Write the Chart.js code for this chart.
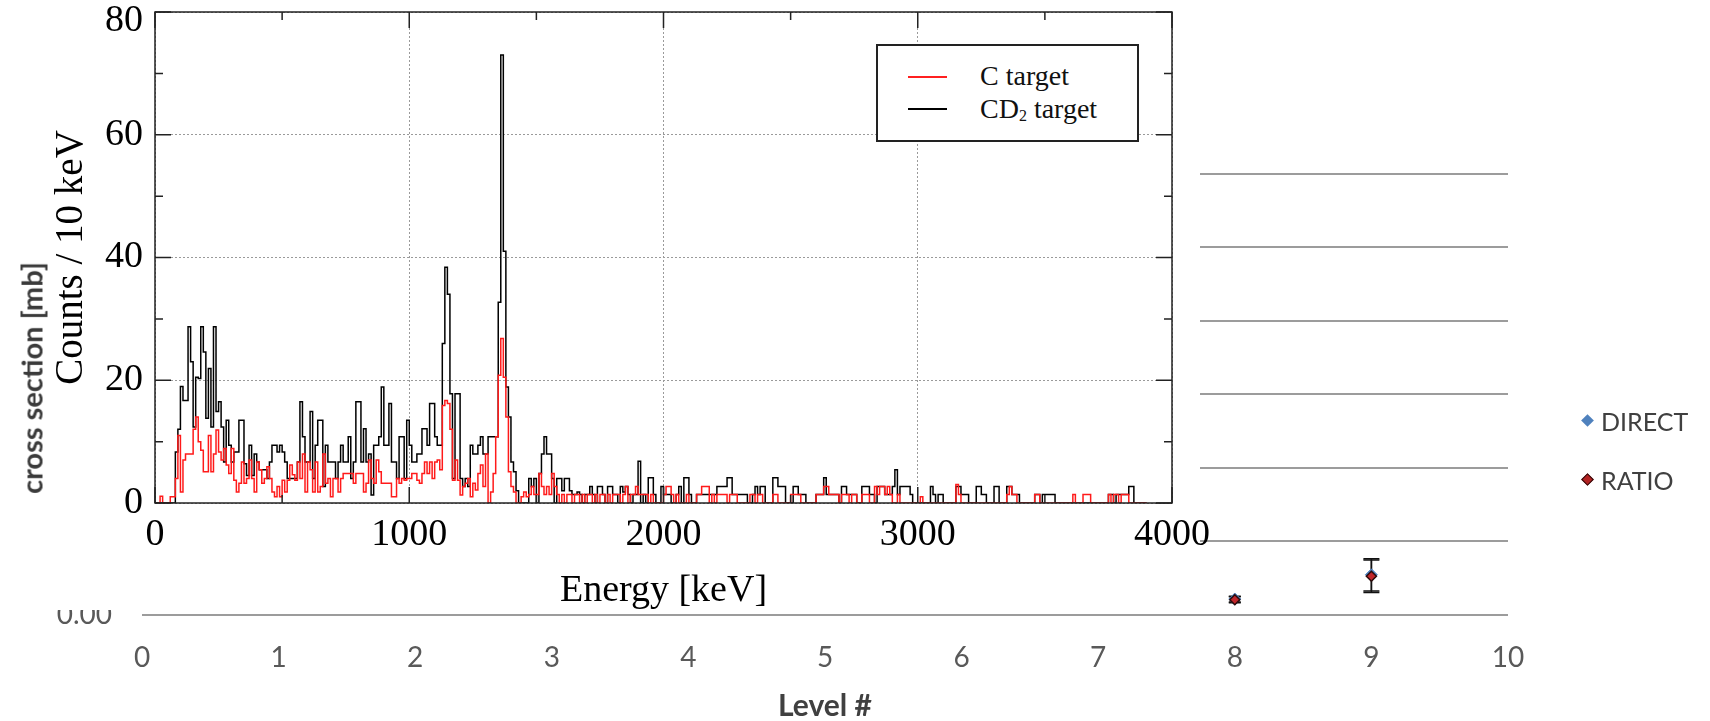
<!DOCTYPE html>
<html>
<head>
<meta charset="utf-8">
<title>CD2 / C target spectra</title>
<script src="https://cdn.jsdelivr.net/npm/chart.js@4.4.1/dist/chart.umd.min.js"></script>
<style>
  html, body { margin: 0; padding: 0; background: #fff; }
  body { position: relative; width: 1710px; height: 721px; overflow: hidden; }
  #levelChart { position: absolute; left: 0; top: 0; }
  #spectrumBox { position: absolute; left: 0; top: 0; width: 1200px; height: 610px; background: #fff; }
  #spectrumChart { position: absolute; left: 0; top: 0; }
  .abs { position: absolute; white-space: nowrap; }
  #rootLegend { left: 876px; top: 44px; width: 263px; height: 98px; box-sizing: border-box;
    border: 2px solid #222; background: #fff; }
  .serif { font-family: "Liberation Serif", "Times New Roman", serif; font-size: 28px; line-height: 28px; color: #111; }
  .xl { font-family: Lato, "Open Sans", sans-serif; color: #404040; }
  .diamond { width: 9px; height: 9px; transform: rotate(45deg); box-sizing: border-box; }
</style>
</head>
<body>
<canvas id="levelChart" width="1710" height="721"></canvas>
<div id="spectrumBox">
  <canvas id="spectrumChart" width="1215" height="610"></canvas>
</div>

<div id="rootLegend" class="abs"></div>
<div class="abs" style="left:908px; top:76px; width:39px; height:2px; background:#ff2020;"></div>
<div class="abs" style="left:908px; top:108px; width:39px; height:2px; background:#000;"></div>
<div class="abs serif" style="left:980px; top:62px;">C target</div>
<div class="abs serif" style="left:980px; top:95px;">CD<sub style="font-size:16px; vertical-align:-3px;">2</sub> target</div>

<div class="abs xl" style="left:31px; top:378px; transform: translate(-50%, -50%) rotate(-90deg); font-weight:bold; font-size:29px; color:#3a3a3a;">cross section [mb]</div>

<div class="abs diamond" style="left:1583px; top:416px; background:#4f81bd;"></div>
<div class="abs xl" style="left:1601px; top:406px; font-size:25px; line-height:30px;">DIRECT</div>
<div class="abs diamond" style="left:1583px; top:475px; background:#b22222; border:1.5px solid #2a0a0a;"></div>
<div class="abs xl" style="left:1601px; top:465px; font-size:25px; line-height:30px;">RATIO</div>

<script>
// ---- spectrum data: counts per 10 keV bin, starting at 0 keV ----
const binWidth = 10;
const energyTicks = [0, 1000, 2000, 3000, 4000];
const countsMax = 80;

const cTarget = [
  0, 0, 1.1, 0, 0, 0, 1, 1, 4, 11,
  1.8, 7, 8, 8, 8, 12, 14, 10, 8.6, 5.1,
  5.1, 11, 5.1, 8, 11.9, 8.3, 7, 8.9, 6.2, 4.8,
  8.9, 3.7, 1.8, 3.2, 6.7, 3.2, 4, 7, 4, 1.8,
  6.7, 5.4, 3.2, 4, 5.9, 4, 1.8, 1, 2.7, 1,
  3.7, 1.8, 3.7, 6.2, 4.6, 3.7, 6.7, 4, 8, 1.8,
  6.7, 5.4, 1.8, 6.7, 1.8, 2.7, 8, 3.2, 4, 1,
  4, 4, 1.8, 4, 4.8, 4.8, 4.8, 4.8, 3.2, 4.8,
  4.8, 4.8, 1.8, 3.2, 7, 4, 3.2, 7, 5.1, 3.2,
  3.2, 3.2, 3.2, 1, 1, 4, 3.2, 4, 3.7, 4,
  4, 4.8, 4.8, 3.7, 3.2, 4.8, 6.7, 4.8, 6.7, 4,
  6.7, 7, 5.4, 15.9, 16.7, 16.2, 12, 3.7, 7, 3.7,
  1.3, 2.7, 3.2, 4, 1, 3.2, 2.1, 4.8, 6.2, 2.7,
  8, 0, 1.8, 4.8, 10.8, 20.8, 26.8, 20.5, 14, 5.1,
  2.7, 1.8, 0, 0, 1, 1.8, 1, 1.4, 2.7, 1.4,
  1.4, 4.8, 2.7, 1.4, 2.7, 1.4, 4.8, 2.7, 1.4, 0,
  1.4, 0, 1.4, 1.4, 0, 1.4, 1.4, 0, 1.4, 0,
  1.4, 1.4, 0, 1.4, 0, 1.4, 1.4, 0, 1.4, 0,
  1.4, 1.4, 1.4, 0, 1.4, 2.7, 0, 1.4, 1.4, 2.7,
  1.4, 1.4, 1.4, 1.4, 0, 1.4, 0, 0, 0, 0,
  1.4, 2.7, 2.7, 1.4, 0, 1.4, 0, 0, 0, 1.4,
  0, 0, 0, 1.4, 1.4, 2.7, 2.7, 2.7, 0, 1.4,
  0, 1.4, 1.4, 1.4, 1.4, 0, 1.4, 1.4, 1.4, 0,
  0, 0, 0, 0, 1.4, 1.4, 0, 1.4, 1.4, 0,
  0, 0, 0, 1.4, 1.4, 0, 0, 0, 0, 0,
  1.4, 1.4, 1.4, 1.4, 0, 0, 0, 0, 0, 0,
  1.4, 1.4, 1.4, 2.7, 2.7, 1.4, 1.4, 1.4, 1.4, 0,
  1.4, 1.4, 1.4, 0, 1.4, 1.4, 0, 0, 1.4, 1.4,
  1.4, 0, 0, 2.7, 1.4, 2.7, 2.7, 1.4, 2.7, 1.4,
  0, 0, 1.4, 0, 0, 0, 0, 0, 0, 0,
  0, 1, 0, 0, 0, 0, 0, 0, 0, 0,
  0, 0, 0, 0, 0, 3, 1.4, 0, 0, 0,
  0, 0, 0, 0, 0, 0, 0, 0, 0, 0,
  0, 0, 0, 0, 0, 1.4, 2.7, 1.4, 1.4, 0,
  0, 0, 0, 0, 0, 0, 1.4, 1.4, 0, 0,
  0, 0, 0, 0, 0, 0, 0, 0, 0, 0,
  0, 1.4, 0, 0, 0, 1.4, 1.4, 1.4, 0, 0,
  0, 0, 0, 0, 0, 1.4, 0, 1.4, 1.4, 0,
  1.4, 1.4, 1.4, 0, 0, 0, 0, 0, 0, 0
];

const cd2Target = [
  0, 0, 0, 0, 0, 0, 0, 0, 8.3, 12,
  19, 16.7, 16.7, 28.7, 23, 12.4, 20.5, 20.3, 28.7, 24.6,
  13.8, 21.9, 12.4, 28.7, 14.9, 16.5, 12.4, 6.7, 13.5, 9.4,
  6.7, 8.3, 8.3, 13.5, 13.5, 6.4, 4.5, 9.4, 4.5, 8,
  6.7, 5.4, 5.4, 5.4, 4, 6.7, 9.4, 9.4, 8.3, 9.4,
  8.3, 6.7, 4, 4, 4, 4, 6.7, 16.5, 10.8, 6.7,
  6.7, 14.9, 4, 9.4, 13.5, 13.5, 2.7, 9.4, 6.7, 6.7,
  6.7, 4, 6.7, 9.4, 6.7, 6.7, 10.8, 4, 6.7, 16.5,
  16.5, 6.7, 12.1, 6.7, 8, 1.3, 9.4, 9.4, 10.8, 18.9,
  9.4, 9.4, 16.2, 6.7, 6.7, 4, 10.8, 10.8, 4, 13.5,
  9.4, 6.7, 6.7, 8, 8, 12.1, 12.1, 9.4, 16.2, 16.2,
  10.8, 9.4, 9.4, 26, 38.4, 34, 17.8, 4, 17.8, 17.8,
  4, 2.7, 4, 2.7, 9.4, 8, 8, 9.4, 10.8, 8,
  8, 10.8, 10.8, 10.8, 10.8, 32.7, 73, 41, 18.9, 14,
  6.7, 5.1, 2, 0, 0, 0, 0, 4, 2.7, 4,
  0, 4.8, 8, 10.8, 8, 8, 4, 0, 4, 4,
  2, 4, 4, 2, 1.4, 1.4, 1.8, 1.4, 0, 1.4,
  1.4, 2.7, 1.4, 0, 2.7, 2.7, 1.4, 0, 2.7, 2.7,
  1.4, 1.4, 0, 2.7, 1.8, 2.7, 1.4, 0, 1.4, 1.4,
  6.8, 0, 1.4, 0, 4.1, 4.1, 1.4, 0, 0, 2.7,
  1.4, 1.4, 1.4, 0, 0, 1.4, 2.7, 0, 4.1, 4.1,
  1.4, 0, 0, 1.4, 1.4, 1.4, 1.4, 1.4, 1.4, 1.4,
  1.4, 2.7, 2.7, 2.7, 2.7, 4.1, 4.1, 1.4, 1.4, 1.4,
  1.4, 1.4, 1.4, 0, 0, 1.4, 2.7, 1.4, 2.7, 2.7,
  0, 0, 0, 4.1, 4.1, 2.7, 2.7, 2.7, 0, 0,
  0, 2.7, 2.7, 1.4, 1.4, 1.4, 0, 0, 0, 0,
  1.4, 1.4, 1.4, 4.1, 1.4, 1.4, 1.4, 1.4, 1.4, 0,
  2.7, 2.7, 1.4, 1.4, 1.4, 1.4, 0, 0, 2.7, 2.7,
  2.7, 1.4, 1.4, 0, 2.7, 2.7, 2.7, 1.4, 1.4, 1.4,
  2.7, 5.4, 1.4, 2.7, 2.7, 2.7, 2.7, 1.4, 0, 0,
  0, 0, 0, 0, 0, 2.7, 1.4, 0, 1.4, 1.4,
  0, 0, 0, 0, 0, 2.7, 2.7, 1.4, 1.4, 1.4,
  0, 0, 0, 2.7, 2.7, 1.4, 1.4, 0, 0, 0,
  2.7, 2.7, 0, 0, 0, 2.7, 2.7, 1.4, 1.4, 1.4,
  0, 0, 0, 0, 0, 0, 1.4, 1.4, 0, 1.4,
  1.4, 1.4, 1.4, 1.4, 0, 0, 0, 0, 0, 0,
  0, 0, 0, 0, 0, 0, 0, 0, 0, 0,
  0, 0, 0, 0, 0, 1.4, 1.4, 0, 1.4, 1.4,
  1.4, 1.4, 1.4, 2.7, 2.7, 0, 0, 0, 0, 0
];

// ---- cross section data behind the spectrum ----
const levels = [8, 9];
const directValues = [0.021, 0.054];
const directErrors = [0.004, 0.022];
const ratioValues = [0.020, 0.052];
const ratioErrors = [0.004, 0.022];

// histogram outline: each bin starts at its lower edge, closed at the last edge
const toSteps = (values) => {
  const pts = values.map((v, i) => ({ x: i * binWidth, y: v }));
  pts.push({ x: values.length * binWidth, y: 0 });
  return pts;
};

const serif = '"Liberation Serif", "Times New Roman", serif';
const sans = 'Lato, "Open Sans", sans-serif';

// ROOT style frame with inside ticks
const rootFrame = {
  id: 'rootFrame',
  afterDraw(chart) {
    const { ctx, chartArea: a, scales: { x, y } } = chart;
    ctx.save();
    ctx.strokeStyle = '#222';
    ctx.lineWidth = 1.5;
    ctx.strokeRect(a.left, a.top, a.right - a.left, a.bottom - a.top);
    ctx.beginPath();
    for (let e = energyTicks[0]; e <= energyTicks[energyTicks.length - 1]; e += 500) {
      const px = x.getPixelForValue(e);
      const len = e % 1000 === 0 ? 16 : 8;
      ctx.moveTo(px, a.bottom); ctx.lineTo(px, a.bottom - len);
      ctx.moveTo(px, a.top); ctx.lineTo(px, a.top + len);
    }
    for (let c = 0; c <= countsMax; c += 10) {
      const py = y.getPixelForValue(c);
      const len = c % 20 === 0 ? 16 : 8;
      ctx.moveTo(a.left, py); ctx.lineTo(a.left + len, py);
      ctx.moveTo(a.right, py); ctx.lineTo(a.right - len, py);
    }
    ctx.stroke();
    ctx.restore();
  }
};

new Chart(document.getElementById('spectrumChart'), {
  type: 'line',
  data: {
    datasets: [
      {
        label: 'C target',
        data: toSteps(cTarget),
        borderColor: '#ff1a1a',
        borderWidth: 1.5,
        pointRadius: 0,
        stepped: 'before',
        fill: false,
      },
      {
        label: 'CD2 target',
        data: toSteps(cd2Target),
        borderColor: '#000',
        borderWidth: 1.5,
        pointRadius: 0,
        stepped: 'before',
        fill: false,
      },
    ],
  },
  options: {
    responsive: false,
    animation: false,
    layout: { padding: { top: 12, right: 43, left: 0, bottom: 0 } },
    plugins: { legend: { display: false }, tooltip: { enabled: false } },
    scales: {
      x: {
        type: 'linear',
        min: 0,
        max: 4000,
        ticks: { stepSize: 1000, maxRotation: 0, autoSkip: false, padding: 13,
          color: '#000', font: { family: serif, size: 38, lineHeight: 1 },
          callback: (v) => String(v) },
        grid: { color: '#9a9a9a', lineWidth: 1, drawTicks: false },
        border: { display: false, dash: [2, 2] },
        title: { display: true, text: 'Energy [keV]', color: '#000',
          font: { family: serif, size: 38, lineHeight: 1 }, padding: { top: 0, bottom: 0 } },
        afterFit: (s) => { s.height = 107; s.paddingLeft = 0; s.paddingRight = 0; },
      },
      y: {
        min: 0,
        max: countsMax,
        ticks: {
          stepSize: 20, padding: 12, color: '#000',
          // top label sits a little below the frame edge, as ROOT keeps it inside the pad
          callback: (v) => (v === countsMax ? ['', String(v)] : String(v)),
          font: (ctx) => ({ family: serif, size: 38,
            lineHeight: ctx.tick && ctx.tick.value === countsMax ? 0.5 : 1 }),
        },
        grid: { color: '#9a9a9a', lineWidth: 1, drawTicks: false },
        border: { display: false, dash: [2, 2] },
        title: { display: true, text: 'Counts / 10 keV', color: '#000',
          font: { family: serif, size: 39, lineHeight: 1 }, padding: { top: 52, bottom: 0 } },
        afterFit: (s) => { s.width = 155; s.paddingTop = 0; s.paddingBottom = 0; },
      },
    },
  },
  plugins: [rootFrame],
});

// error bars for the level chart, drawn under the markers
const errorBars = {
  id: 'errorBars',
  beforeDatasetsDraw(chart) {
    const { ctx, scales: { x, y } } = chart;
    ctx.save();
    ctx.strokeStyle = '#111';
    ctx.lineWidth = 1.5;
    chart.data.datasets.forEach((ds) => {
      ds.data.forEach((p, i) => {
        const px = x.getPixelForValue(p.x);
        const top = y.getPixelForValue(p.y + ds.errors[i]);
        const bot = y.getPixelForValue(p.y - ds.errors[i]);
        const cap = ds.errors[i] > 0.01 ? 8 : 6;
        ctx.beginPath();
        ctx.moveTo(px, top); ctx.lineTo(px, bot);
        ctx.moveTo(px - cap, top); ctx.lineTo(px + cap, top);
        ctx.moveTo(px - cap, bot); ctx.lineTo(px + cap, bot);
        ctx.stroke();
      });
    });
    ctx.restore();
  }
};

new Chart(document.getElementById('levelChart'), {
  type: 'scatter',
  data: {
    datasets: [
      {
        label: 'RATIO',
        data: levels.map((l, i) => ({ x: l, y: ratioValues[i] })),
        errors: ratioErrors,
        pointStyle: 'rectRot',
        pointRadius: 5,
        backgroundColor: '#c0262b',
        borderColor: '#2a0a0a',
        borderWidth: 1.5,
      },
      {
        label: 'DIRECT',
        data: levels.map((l, i) => ({ x: l, y: directValues[i] })),
        errors: directErrors,
        pointStyle: 'rectRot',
        pointRadius: 6,
        backgroundColor: '#4f81bd',
        borderColor: '#4f81bd',
        borderWidth: 1,
      },
    ],
  },
  options: {
    responsive: false,
    animation: false,
    layout: { padding: { top: 173.5, right: 202, left: 0, bottom: 0 } },
    plugins: { legend: { display: false }, tooltip: { enabled: false } },
    scales: {
      x: {
        type: 'linear',
        min: 0,
        max: 10,
        ticks: { stepSize: 1, autoSkip: false, maxRotation: 0, padding: 27,
          color: '#595959', font: { family: sans, size: 28, lineHeight: 1.2 } },
        grid: { display: false, drawTicks: false },
        border: { display: false },
        title: { display: true, text: 'Level #', color: '#404040',
          font: { family: sans, size: 30, weight: 'bold', lineHeight: 1 }, padding: { top: 0, bottom: 0 } },
        afterFit: (s) => { s.height = 106.5; s.paddingLeft = 0; s.paddingRight = 0; },
      },
      y: {
        min: 0,
        max: 0.6,
        ticks: { stepSize: 0.1, padding: 30, color: '#595959',
          font: { family: sans, size: 28 }, callback: (v) => v.toFixed(2) },
        grid: { color: '#9c9c9c', lineWidth: 2, drawTicks: false },
        border: { display: false },
        afterFit: (s) => { s.width = 142; s.paddingTop = 0; s.paddingBottom = 0; },
      },
    },
  },
  plugins: [errorBars],
});
</script>
</body>
</html>
